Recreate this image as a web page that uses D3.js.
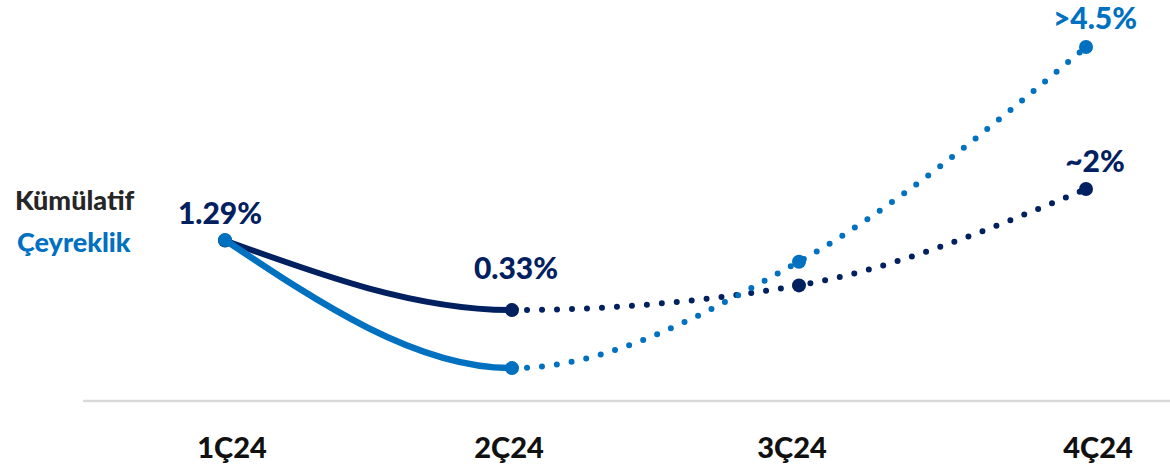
<!DOCTYPE html>
<html>
<head>
<meta charset="utf-8">
<script src="https://cdn.jsdelivr.net/npm/d3@7"></script>
<style>
  html, body { margin: 0; padding: 0; background: #fff; }
  svg { display: block; font-family: Lato, "Open Sans", sans-serif; font-weight: 900; }
</style>
</head>
<body>
<svg id="chart" width="1170" height="471"></svg>
<script>
// Quarters on the x axis
const categories = ["1Ç24", "2Ç24", "3Ç24", "4Ç24"];

// Cumulative series (%), actual 1Q-2Q then outlook
const cumulative = [1.29, 0.33, 0.67, 2.0];
// Quarterly series (%), actual 1Q-2Q then outlook
const quarterly = [1.29, -0.84, 0.93, 4.5];

// Value callouts: series, quarter index, text
const callouts = [
  { series: "cum", i: 0, text: "1.29%" },
  { series: "cum", i: 1, text: "0.33%" },
  { series: "cum", i: 3, text: "~2%" },
  { series: "q",   i: 3, text: ">4.5%" }
];

// Legend entries
const legendNames = ["Kümülatif", "Çeyreklik"];

// ---- layout / style ----
const W = 1170, H = 471;
const navy = "#002060", blue = "#0070C0";
const calloutShift = [[-5, -16], [4, -31], [9, -17], [9, -18]];
const catShift = [7, -3, -7, 12];

const svg = d3.select("#chart");

const x = d3.scalePoint().domain(categories).range([225, 1086]);
const yCum = d3.scaleLinear().domain([0, 2]).range([334, 189]);
const yQ = d3.scaleLinear().domain([0, 4.5]).range([317.6, 47]);

// baseline rule
svg.append("line")
  .attr("x1", 83).attr("x2", W)
  .attr("y1", 401).attr("y2", 401)
  .attr("stroke", "#d9d9d9").attr("stroke-width", 2.5);

// category labels
svg.append("g").selectAll("text").data(categories).join("text")
  .attr("x", (d, i) => x(d) + catShift[i])
  .attr("y", 458)
  .attr("text-anchor", "middle")
  .attr("font-size", 29)
  .attr("fill", "#111")
  .text(d => d);

const split = x(categories[1]);

// clip regions: actual part (left of 2Ç24) and outlook part (right of it)
const defs = svg.append("defs");
defs.append("clipPath").attr("id", "clipActual")
  .append("rect").attr("x", 0).attr("y", 0).attr("width", split).attr("height", H);
defs.append("clipPath").attr("id", "clipOutlook")
  .append("rect").attr("x", split).attr("y", 0).attr("width", W - split).attr("height", H);

function drawSeries(values, yScale, color, width) {
  const pts = values.map((v, i) => [x(categories[i]), yScale(v)]);
  const lineGen = d3.line().curve(d3.curveMonotoneX);
  const d = lineGen(pts);
  const g = svg.append("g");

  g.append("path")
    .attr("d", d)
    .attr("fill", "none")
    .attr("stroke", color)
    .attr("stroke-width", width)
    .attr("clip-path", "url(#clipActual)");

  const dotted = g.append("path")
    .attr("d", d)
    .attr("fill", "none")
    .attr("stroke", color)
    .attr("stroke-width", 6)
    .attr("stroke-linecap", "round")
    .attr("clip-path", "url(#clipOutlook)");

  // start the dot pattern exactly at the 2Ç24 point
  const node = dotted.node();
  const total = node.getTotalLength();
  let lo = 0, hi = total;
  for (let k = 0; k < 40; k++) {
    const mid = (lo + hi) / 2;
    if (node.getPointAtLength(mid).x < split) lo = mid; else hi = mid;
  }
  const gap = 15;
  dotted.attr("stroke-dasharray", `0 ${gap}`)
        .attr("stroke-dashoffset", gap - (lo % gap));

  g.selectAll("circle").data(pts).join("circle")
    .attr("cx", p => p[0]).attr("cy", p => p[1])
    .attr("r", 7)
    .attr("fill", color);
}

drawSeries(cumulative, yCum, navy, 6);
drawSeries(quarterly, yQ, blue, 6.5);

// value callouts
svg.append("g").selectAll("text").data(callouts).join("text")
  .attr("x", (c, k) => x(categories[c.i]) + calloutShift[k][0])
  .attr("y", (c, k) => (c.series === "cum" ? yCum(cumulative[c.i]) : yQ(quarterly[c.i])) + calloutShift[k][1])
  .attr("text-anchor", "middle")
  .attr("font-size", 30)
  .attr("fill", c => c.series === "cum" ? navy : blue)
  .text(c => c.text);

// legend
const legendColors = ["#262626", blue];
const legendPos = [[15, 210], [17, 252]];
svg.append("g").selectAll("text").data(legendNames).join("text")
  .attr("x", (d, i) => legendPos[i][0])
  .attr("y", (d, i) => legendPos[i][1])
  .attr("font-size", 27)
  .attr("fill", (d, i) => legendColors[i])
  .text(d => d);
</script>
</body>
</html>
